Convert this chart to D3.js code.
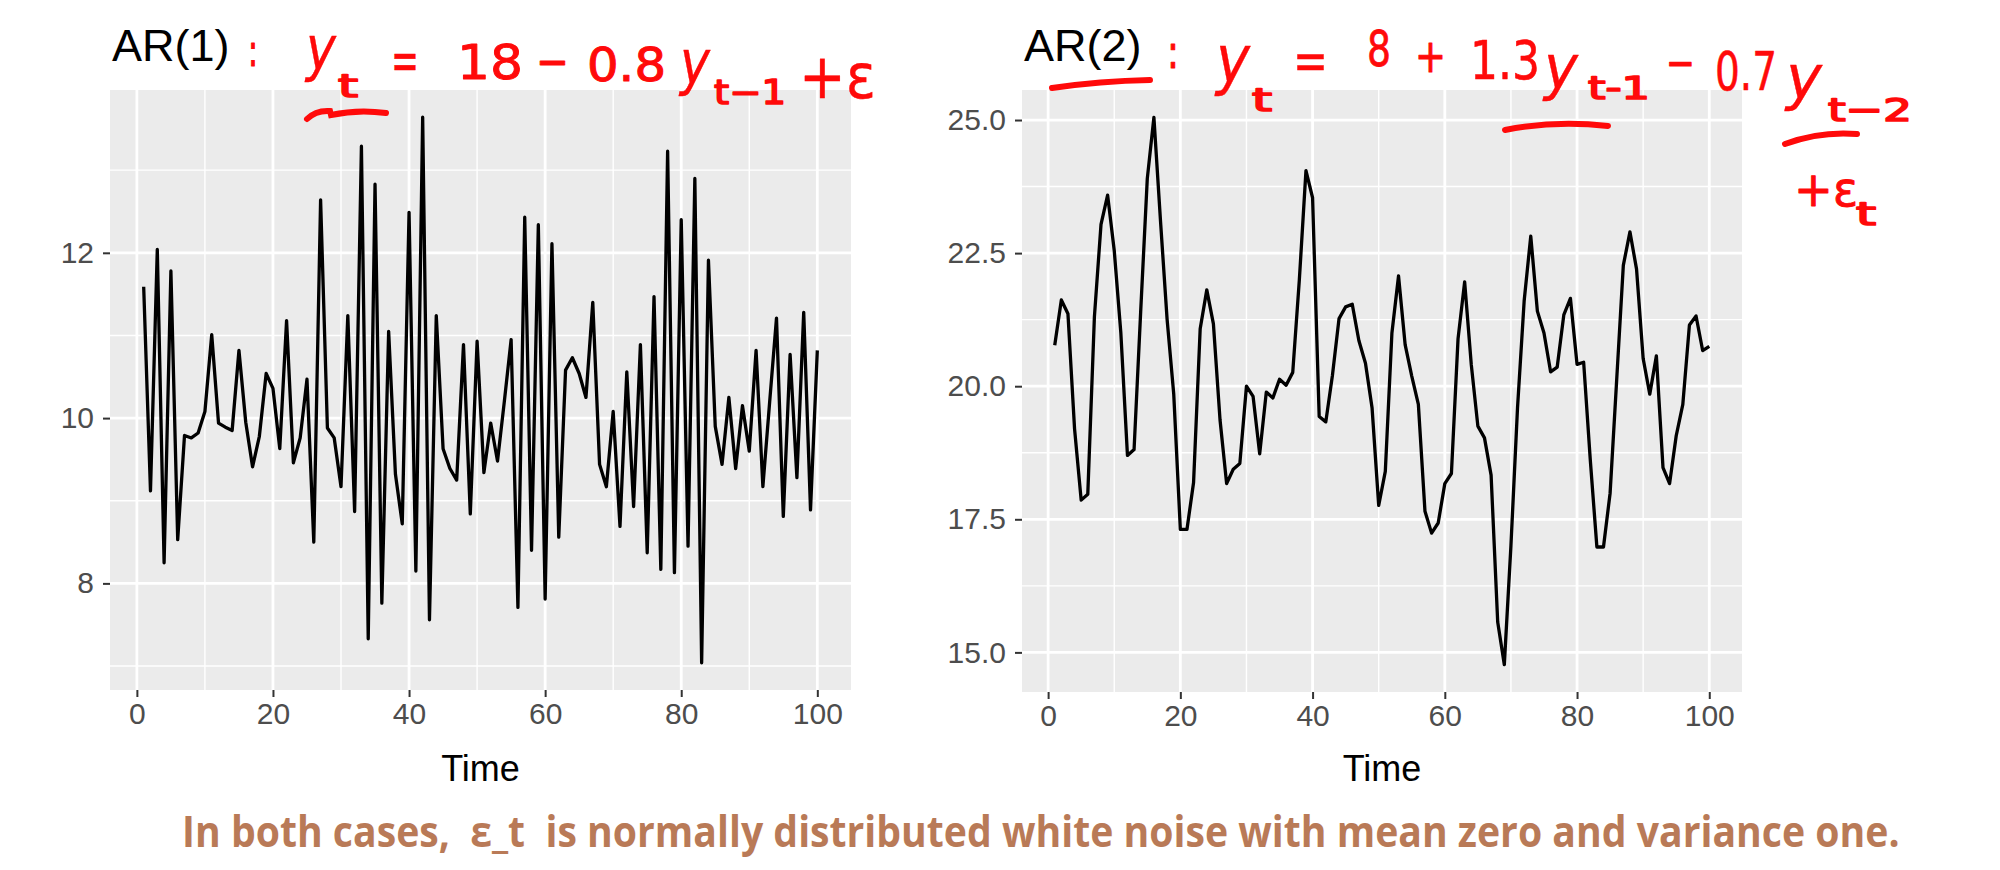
<!DOCTYPE html>
<html><head><meta charset="utf-8">
<script src="https://cdn.jsdelivr.net/npm/d3@7"></script>
<style>html,body{margin:0;padding:0;background:#fff;} svg{display:block;}</style>
</head><body>
<svg id="chart" width="2000" height="870"></svg>
<script>
// ---------------- data ----------------
const time = d3.range(1, 101);
const ar1Values = [
  11.59, 9.12, 12.04, 8.25, 11.78, 8.53, 9.79, 9.76, 9.82, 10.08,
  11.01, 9.94, 9.89, 9.85, 10.82, 9.95, 9.41, 9.78, 10.54, 10.36,
  9.63, 11.18, 9.46, 9.76, 10.47, 8.50, 12.64, 9.88, 9.76, 9.17,
  11.24, 8.87, 13.29, 7.33, 12.83, 7.76, 11.05, 9.32, 8.72, 12.49,
  8.15, 13.64, 7.56, 11.24, 9.63, 9.39, 9.25, 10.89, 8.84, 10.93,
  9.34, 9.94, 9.48, 10.20, 10.95, 7.71, 12.43, 8.40, 12.34, 7.81,
  12.11, 8.56, 10.58, 10.73, 10.54, 10.25, 11.40, 9.44, 9.17, 10.08,
  8.69, 10.56, 8.93, 10.89, 8.37, 11.47, 8.17, 13.23, 8.13, 12.40,
  8.45, 12.90, 7.04, 11.91, 9.90, 9.44, 10.25, 9.39, 10.15, 9.60,
  10.82, 9.17, 10.20, 11.21, 8.81, 10.77, 9.28, 11.28, 8.89, 10.82
];
const ar2Values = [
  20.77, 21.62, 21.36, 19.20, 17.86, 17.97, 21.30, 23.04, 23.59, 22.55,
  21.00, 18.70, 18.81, 21.40, 23.90, 25.05, 23.10, 21.25, 19.85, 17.31,
  17.31, 18.19, 21.08, 21.81, 21.17, 19.37, 18.17, 18.44, 18.55, 20.00,
  19.81, 18.73, 19.89, 19.78, 20.13, 20.02, 20.26, 22.00, 24.05, 23.54,
  19.43, 19.33, 20.20, 21.27, 21.49, 21.54, 20.86, 20.43, 19.59, 17.76,
  18.40, 21.00, 22.07, 20.78, 20.19, 19.66, 17.65, 17.24, 17.43, 18.17,
  18.36, 20.89, 21.96, 20.41, 19.25, 19.03, 18.33, 15.57, 14.77, 17.00,
  19.60, 21.60, 22.82, 21.41, 21.00, 20.27, 20.36, 21.34, 21.65, 20.41,
  20.45, 18.62, 16.98, 16.98, 17.99, 20.13, 22.27, 22.90, 22.20, 20.52,
  19.85, 20.57, 18.47, 18.17, 19.07, 19.66, 21.15, 21.32, 20.67, 20.75
];
const xTicks = [0, 20, 40, 60, 80, 100];
const ar1YTicks = [8, 10, 12];
const ar2YTicks = [15, 17.5, 20, 22.5, 25];
const panelTitles = ["AR(1)", "AR(2)"];
const xLabel = "Time";
const captionText = "In both cases,  \u03B5_t  is normally distributed white noise with mean zero and variance one.";

// ---------------- drawing ----------------
const svg = d3.select("#chart");
const FONT = "'Liberation Sans', Arial, Helvetica, sans-serif";

function minorBreaks(ticks, dom) {
  const out = ticks.slice(1).map((d, i) => (d + ticks[i]) / 2);
  const step = ticks[1] - ticks[0];
  [ticks[0] - step / 2, ticks[ticks.length - 1] + step / 2].forEach(v => {
    if (v > dom[0] && v < dom[1]) out.push(v);
  });
  return out;
}

function drawPanel(cfg) {
  const { x0, x1, y0, y1, values, yTicks, yFmt, title } = cfg;
  const data = values.map((v, i) => ({ t: time[i], v }));
  const xe = d3.extent(time), ye = d3.extent(values);
  const xp = (xe[1] - xe[0]) * 0.05, yp = (ye[1] - ye[0]) * 0.05;
  const x = d3.scaleLinear().domain([xe[0] - xp, xe[1] + xp]).range([x0, x1]);
  const y = d3.scaleLinear().domain([ye[0] - yp, ye[1] + yp]).range([y1, y0]);
  const g = svg.append("g");

  g.append("rect").attr("x", x0).attr("y", y0)
    .attr("width", x1 - x0).attr("height", y1 - y0).attr("fill", "#EBEBEB");

  const xMin = minorBreaks(xTicks, x.domain());
  const yMin = minorBreaks(yTicks, y.domain());
  const grid = g.append("g");
  grid.selectAll(".ymin").data(yMin).join("line")
    .attr("x1", x0).attr("x2", x1).attr("y1", d => y(d)).attr("y2", d => y(d))
    .attr("stroke", "#FFFFFF").attr("stroke-width", 1.4);
  grid.selectAll(".xmin").data(xMin).join("line")
    .attr("y1", y0).attr("y2", y1).attr("x1", d => x(d)).attr("x2", d => x(d))
    .attr("stroke", "#FFFFFF").attr("stroke-width", 1.4);
  grid.selectAll(".ymaj").data(yTicks).join("line")
    .attr("x1", x0).attr("x2", x1).attr("y1", d => y(d)).attr("y2", d => y(d))
    .attr("stroke", "#FFFFFF").attr("stroke-width", 2.8);
  grid.selectAll(".xmaj").data(xTicks).join("line")
    .attr("y1", y0).attr("y2", y1).attr("x1", d => x(d)).attr("x2", d => x(d))
    .attr("stroke", "#FFFFFF").attr("stroke-width", 2.8);

  const line = d3.line().x(d => x(d.t)).y(d => y(d.v));
  g.append("path").datum(data).attr("d", line)
    .attr("fill", "none").attr("stroke", "#000").attr("stroke-width", 3.3)
    .attr("stroke-linejoin", "round");

  const ax = g.append("g").attr("transform", `translate(0,${y1})`)
    .call(d3.axisBottom(x).tickValues(xTicks).tickSize(7).tickPadding(6));
  const ay = g.append("g").attr("transform", `translate(${x0},0)`)
    .call(d3.axisLeft(y).tickValues(yTicks).tickSize(7).tickPadding(9).tickFormat(yFmt));
  [ax, ay].forEach(a => {
    a.select(".domain").remove();
    a.selectAll(".tick line").attr("stroke", "#333333").attr("stroke-width", 2);
    a.selectAll(".tick text").attr("fill", "#4D4D4D")
      .style("font-family", FONT).style("font-size", "30px");
  });

  g.append("text").attr("x", (x0 + x1) / 2).attr("y", 781)
    .attr("text-anchor", "middle").style("font-family", FONT).style("font-size", "36px")
    .attr("fill", "#000").text(xLabel);

  g.append("text").attr("x", x0 + 2).attr("y", 61)
    .style("font-family", FONT).style("font-size", "45px").attr("fill", "#000")
    .text(title);
}

drawPanel({ x0: 110, x1: 851, y0: 90, y1: 690, values: ar1Values,
  yTicks: ar1YTicks, yFmt: d3.format("d"), title: panelTitles[0] });
drawPanel({ x0: 1022, x1: 1742, y0: 90, y1: 692, values: ar2Values,
  yTicks: ar2YTicks, yFmt: d3.format(".1f"), title: panelTitles[1] });

// ---------------- handwritten red annotations ----------------
const RED = "#FF0A0A";
const HAND = "'DejaVu Sans', 'Noto Sans', sans-serif";
// x = left edge, w = target width, y = baseline, s = font size
const handPieces = [
  // AR(1) formula
  { t: ":", x: 248, w: 10, y: 66, s: 44 },
  { t: "y", x: 306, w: 30, y: 70, s: 60, i: true },
  { t: "t", x: 338, w: 22, y: 97, s: 32 },
  { t: "=", x: 391, w: 28, y: 80, s: 56 },
  { t: "18", x: 457, w: 66, y: 79, s: 48 },
  { t: "\u2212", x: 536, w: 33, y: 78, s: 48 },
  { t: "0.8", x: 587, w: 79, y: 81, s: 46 },
  { t: "y", x: 680, w: 30, y: 84, s: 60, i: true },
  { t: "t\u22121", x: 714, w: 72, y: 104, s: 34 },
  { t: "+\u03B5", x: 799, w: 77, y: 98, s: 62 },
  // AR(2) formula
  { t: ":", x: 1167, w: 12, y: 68, s: 46 },
  { t: "y", x: 1216, w: 34, y: 82, s: 66, i: true },
  { t: "t", x: 1252, w: 22, y: 111, s: 32 },
  { t: "=", x: 1293, w: 35, y: 80, s: 56 },
  { t: "8", x: 1367, w: 24, y: 66, s: 50 },
  { t: "+", x: 1415, w: 31, y: 72, s: 46 },
  { t: "1.3", x: 1470, w: 70, y: 79, s: 54 },
  { t: "y", x: 1544, w: 34, y: 88, s: 60, i: true },
  { t: "t-1", x: 1588, w: 62, y: 99, s: 32 },
  { t: "\u2212", x: 1666, w: 29, y: 78, s: 44 },
  { t: "0.7", x: 1715, w: 62, y: 90, s: 54 },
  { t: "y", x: 1786, w: 36, y: 98, s: 60, i: true },
  { t: "t\u22122", x: 1828, w: 84, y: 121, s: 32 },
  { t: "+\u03B5", x: 1794, w: 64, y: 206, s: 48 },
  { t: "t", x: 1856, w: 26, y: 225, s: 32 }
];
const hand = svg.append("g");
hand.selectAll("text").data(handPieces).join("text")
  .attr("x", 0).attr("y", 0)
  .attr("fill", RED).attr("stroke", RED)
  .attr("stroke-width", d => Math.max(0.4, 3.4 - 0.052 * d.s))
  .attr("stroke-linejoin", "round")
  .style("font-family", HAND).style("font-size", d => d.s + "px")
  .style("font-style", d => d.i ? "italic" : "normal")
  .text(d => d.t)
  .each(function (d) {
    const len = this.getComputedTextLength() || d.w;
    const k = Math.max(0.55, Math.min(1.6, d.w / len));
    d3.select(this).attr("transform", `translate(${d.x},${d.y}) scale(${k},1)`);
  });

const strokes = [
  "M307,119 Q316,110 330,111 L331,115 Q358,109 386,113",
  "M1052,88 Q1100,81 1150,80",
  "M1505,130 Q1555,120 1608,126",
  "M1785,144 Q1820,131 1857,134"
];
svg.append("g").selectAll("path").data(strokes).join("path")
  .attr("d", d => d).attr("fill", "none").attr("stroke", RED)
  .attr("stroke-width", 6).attr("stroke-linecap", "round");

// ---------------- caption ----------------
const cap = svg.append("text").attr("x", 0).attr("y", 0)
  .style("font-family", "'Open Sans', 'Noto Sans', sans-serif")
  .style("font-weight", 700).style("font-size", "43px")
  .style("white-space", "pre").attr("xml:space", "preserve")
  .attr("fill", "#B97A57").text(captionText);
const capLen = cap.node().getComputedTextLength() || 1718;
cap.attr("transform", `translate(182,847) scale(${1718 / capLen},1)`);
</script>
</body></html>
